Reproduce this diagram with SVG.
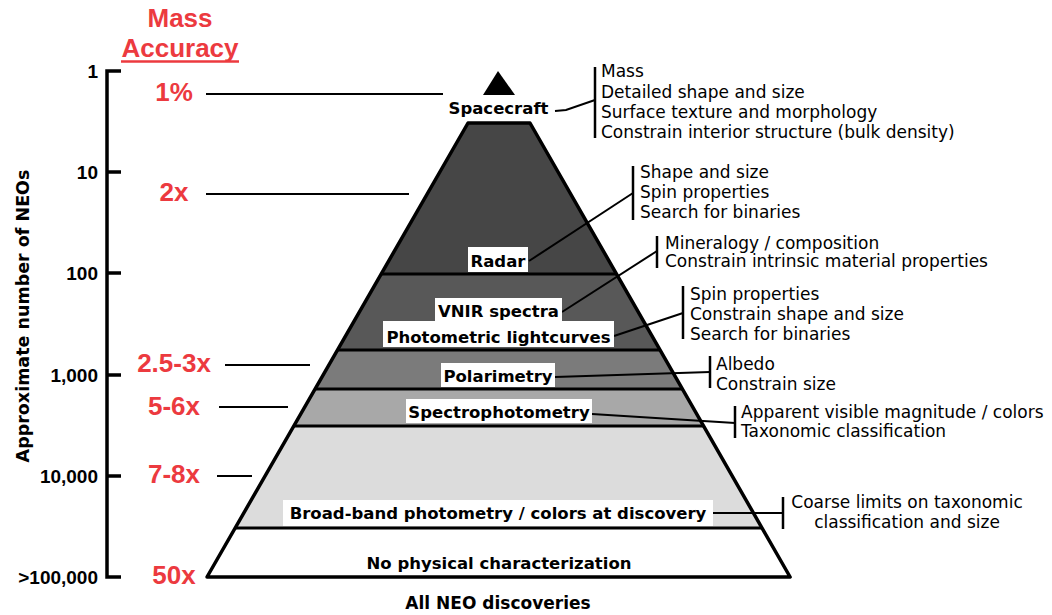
<svg xmlns="http://www.w3.org/2000/svg" width="1052" height="615" viewBox="0 0 1052 615">
<style>
.lbl{font-family:"DejaVu Sans",sans-serif;font-weight:bold;font-size:16.5px;fill:#000;text-anchor:middle}
.note{font-family:"DejaVu Sans",sans-serif;font-size:17px;fill:#000}
.num{font-family:"Liberation Sans",Arial,sans-serif;font-weight:bold;font-size:19px;fill:#000;text-anchor:end}
.red{font-family:"Liberation Sans",Arial,sans-serif;font-weight:bold;font-size:26px;fill:#ec3a3f;text-anchor:middle}
.box{fill:#fff}
.br{stroke:#000;stroke-width:2.5;fill:none}
.cn{stroke:#000;stroke-width:2;fill:none}
.band{stroke:#000;stroke-width:3;fill:none}
</style>
<rect width="1052" height="615" fill="#fff"/>

<g id="axis">
<path d="M121,71 H107 V577 H121" fill="none" stroke="#000" stroke-width="3.5"/>
<path d="M107,172 H121 M107,273 H121 M107,375 H121 M107,476 H121" stroke="#000" stroke-width="3.5"/>
<text class="num" x="98" y="78">1</text>
<text class="num" x="98" y="179">10</text>
<text class="num" x="98" y="280">100</text>
<text class="num" x="98" y="382">1,000</text>
<text class="num" x="98" y="483">10,000</text>
<text class="num" x="98" y="584">&gt;100,000</text>
<text font-family="DejaVu Sans,sans-serif" font-weight="bold" font-size="17.5" text-anchor="middle" transform="translate(29,316) rotate(-90)">Approximate number of NEOs</text>
</g>

<g id="mass-accuracy">
<text class="red" x="180" y="27">Mass</text>
<text class="red" x="180" y="57">Accuracy</text>
<line x1="121" y1="61.5" x2="239" y2="61.5" stroke="#ec3a3f" stroke-width="2.5"/>
<text class="red" x="174" y="101">1%</text>
<text class="red" x="174" y="201">2x</text>
<text class="red" x="174" y="372">2.5-3x</text>
<text class="red" x="174" y="415">5-6x</text>
<text class="red" x="174" y="483">7-8x</text>
<text class="red" x="174" y="584">50x</text>
</g>

<g id="pyramid">
<polygon points="468,123 530,123 616.5,274 381.2,274" fill="#464646"/>
<polygon points="381.2,274 616.5,274 660.1,350 337.5,350" fill="#585858"/>
<polygon points="337.5,350 660.1,350 682.4,389 315.1,389" fill="#7b7b7b"/>
<polygon points="315.1,389 682.4,389 703.6,426 293.8,426" fill="#a8a8a8"/>
<polygon points="293.8,426 703.6,426 762.1,528 235.1,528" fill="#dcdcdc"/>
<polygon points="235.1,528 762.1,528 790.1,577 207,577" fill="#fff"/>
<line class="band" x1="381.2" y1="274" x2="616.5" y2="274"/>
<line class="band" x1="337.5" y1="350" x2="660.1" y2="350"/>
<line class="band" x1="315.1" y1="389" x2="682.4" y2="389"/>
<line class="band" x1="293.8" y1="426" x2="703.6" y2="426"/>
<line class="band" x1="235.1" y1="528" x2="762.1" y2="528"/>
<polygon points="468,123 530,123 790.1,577 207,577" fill="none" stroke="#000" stroke-width="3.5" stroke-linejoin="round"/>
</g>

<g id="connectors">
<line class="cn" x1="206" y1="94" x2="443" y2="94"/>
<line class="cn" x1="206" y1="194" x2="409" y2="194"/>
<line class="cn" x1="225" y1="365" x2="310" y2="365"/>
<line class="cn" x1="219" y1="407" x2="288" y2="407"/>
<line class="cn" x1="217" y1="476" x2="252" y2="476"/>
<polyline class="cn" points="555,111 566,110 595,100"/>
<line class="cn" x1="529" y1="261" x2="633" y2="193"/>
<line class="cn" x1="562" y1="312" x2="657" y2="251"/>
<line class="cn" x1="614" y1="336" x2="683" y2="313"/>
<line class="cn" x1="555" y1="377" x2="710" y2="372"/>
<line class="cn" x1="592" y1="414" x2="735" y2="423"/>
<line class="cn" x1="713" y1="513" x2="783" y2="513"/>
</g>

<g id="spacecraft">
<polygon points="498,71 515,95 483,95" fill="#000"/>
<text class="lbl" x="498.5" y="114">Spacecraft</text>
<line class="br" x1="595" y1="67" x2="595" y2="138"/>
<text class="note" x="601" y="77">Mass</text>
<text class="note" x="601" y="98">Detailed shape and size</text>
<text class="note" x="601" y="118">Surface texture and morphology</text>
<text class="note" x="601" y="138">Constrain interior structure (bulk density)</text>
</g>

<g id="radar">
<rect class="box" x="468" y="247" width="60" height="25"/>
<text class="lbl" x="498" y="267">Radar</text>
<line class="br" x1="633" y1="166" x2="633" y2="220"/>
<text class="note" x="640" y="178">Shape and size</text>
<text class="note" x="640" y="198">Spin properties</text>
<text class="note" x="640" y="218">Search for binaries</text>
</g>

<g id="vnir">
<rect class="box" x="435" y="298" width="127" height="23"/>
<text class="lbl" x="498.5" y="317">VNIR spectra</text>
<line class="br" x1="657" y1="236" x2="657" y2="268"/>
<text class="note" x="665" y="249">Mineralogy / composition</text>
<text class="note" x="665" y="267">Constrain intrinsic material properties</text>
</g>

<g id="photometric">
<rect class="box" x="383" y="321" width="231" height="26"/>
<text class="lbl" x="498.5" y="343">Photometric lightcurves</text>
<line class="br" x1="683" y1="286" x2="683" y2="339"/>
<text class="note" x="690" y="300">Spin properties</text>
<text class="note" x="690" y="320">Constrain shape and size</text>
<text class="note" x="690" y="340">Search for binaries</text>
</g>

<g id="polarimetry">
<rect class="box" x="441" y="363" width="114" height="24"/>
<text class="lbl" x="498" y="382">Polarimetry</text>
<line class="br" x1="710" y1="356" x2="710" y2="388"/>
<text class="note" x="716" y="370">Albedo</text>
<text class="note" x="716" y="390">Constrain size</text>
</g>

<g id="spectrophotometry">
<rect class="box" x="406" y="399" width="186" height="24"/>
<text class="lbl" x="499" y="418">Spectrophotometry</text>
<line class="br" x1="735" y1="406" x2="735" y2="438"/>
<text class="note" x="741" y="418">Apparent visible magnitude / colors</text>
<text class="note" x="741" y="437">Taxonomic classification</text>
</g>

<g id="broadband">
<rect class="box" x="283" y="500" width="430" height="26"/>
<text class="lbl" x="498" y="519">Broad-band photometry / colors at discovery</text>
<line class="br" x1="783" y1="497" x2="783" y2="529"/>
<text class="note" x="907" y="508" text-anchor="middle">Coarse limits on taxonomic</text>
<text class="note" x="907" y="528" text-anchor="middle">classification and size</text>
</g>

<g id="none">
<text class="lbl" x="499" y="569">No physical characterization</text>
</g>

<g id="all">
<text class="lbl" x="498" y="609" style="font-size:17px">All NEO discoveries</text>
</g>
</svg>
